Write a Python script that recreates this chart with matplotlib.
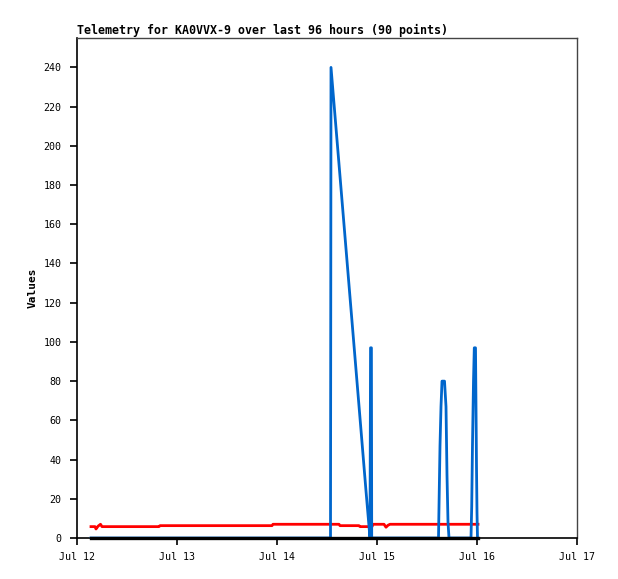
import numpy as np
import pandas as pd
import matplotlib
matplotlib.use("Agg")
import matplotlib.pyplot as plt
import matplotlib.dates as mdates

# hours after Jul 12 00:00 and values
blue_hours = [3.36, 60.84, 60.96, 62.4, 63.84, 65.28, 66.72, 68.16, 69.36, 70.08, 70.32,
              70.45, 70.66, 70.73, 86.76, 86.88, 87.12, 87.36, 87.6, 88.2, 88.56, 88.8,
              89.04, 89.28, 94.56, 94.73, 94.92, 95.16, 95.35, 95.64, 95.88, 96.0, 96.12]
blue_vals = [0, 0, 240, 203, 166, 129, 92, 55, 24, 6, 0,
             97, 97, 0, 0, 16, 47, 67, 80, 80, 67, 32,
             8, 0, 0, 16, 48, 80, 97, 97, 36, 13, 0]

red_hours = [3.36, 4.32, 4.56, 5.04, 5.64, 6.0, 19.68, 19.92, 46.8, 47.04, 62.88, 63.12,
             67.68, 67.92, 70.8, 71.04, 73.68, 74.16, 74.64, 75.12, 96.24]
red_vals = [5.8, 5.8, 4.6, 6.0, 7.0, 5.8, 5.8, 6.3, 6.3, 7.0, 7.0, 6.3,
            6.3, 5.8, 5.8, 7.0, 7.0, 5.5, 6.5, 7.0, 7.0]

black_hours = [3.36, 96.24]
black_vals = [0, 0]

start = pd.Timestamp("2024-07-12")
blue_t = start + pd.to_timedelta(blue_hours, unit="h")
red_t = start + pd.to_timedelta(red_hours, unit="h")
black_t = start + pd.to_timedelta(black_hours, unit="h")

fig = plt.figure(figsize=(6.18, 5.79), dpi=100)
ax = fig.add_axes([77/618, 1 - 538/579, 500/618, 500/579])

ax.plot(red_t, red_vals, color="#ff0000", lw=2.0, zorder=4)
ax.plot(blue_t, blue_vals, color="#0066cc", lw=2.0, zorder=5)
ax.plot(black_t, black_vals, color="black", lw=2.4, zorder=6, clip_on=False)

ax.set_xlim(start, start + pd.Timedelta(days=5))
ax.set_ylim(0, 255)
ax.set_yticks(np.arange(0, 241, 20))
ax.xaxis.set_major_locator(mdates.DayLocator())
ax.xaxis.set_major_formatter(mdates.DateFormatter("%b %d"))

mono = "DejaVu Sans Mono"
for lbl in ax.get_xticklabels() + ax.get_yticklabels():
    lbl.set_family(mono)
    lbl.set_fontsize(7.2)
ax.tick_params(axis="x", direction="out", length=5, width=1.2, pad=5)
ax.tick_params(axis="y", direction="out", length=5, width=1.2, pad=6)

for side in ["left", "bottom"]:
    ax.spines[side].set_color("black")
    ax.spines[side].set_linewidth(1.2)
for side in ["top", "right"]:
    ax.spines[side].set_color("#444444")
    ax.spines[side].set_linewidth(1.0)

ax.set_ylabel("Values", family=mono, fontweight="bold", fontsize=8, labelpad=4)
ax.set_title("Telemetry for KA0VVX-9 over last 96 hours (90 points)",
             family=mono, fontweight="bold", fontsize=8.4, loc="left", pad=3)

fig.savefig("out.png", dpi=100)
